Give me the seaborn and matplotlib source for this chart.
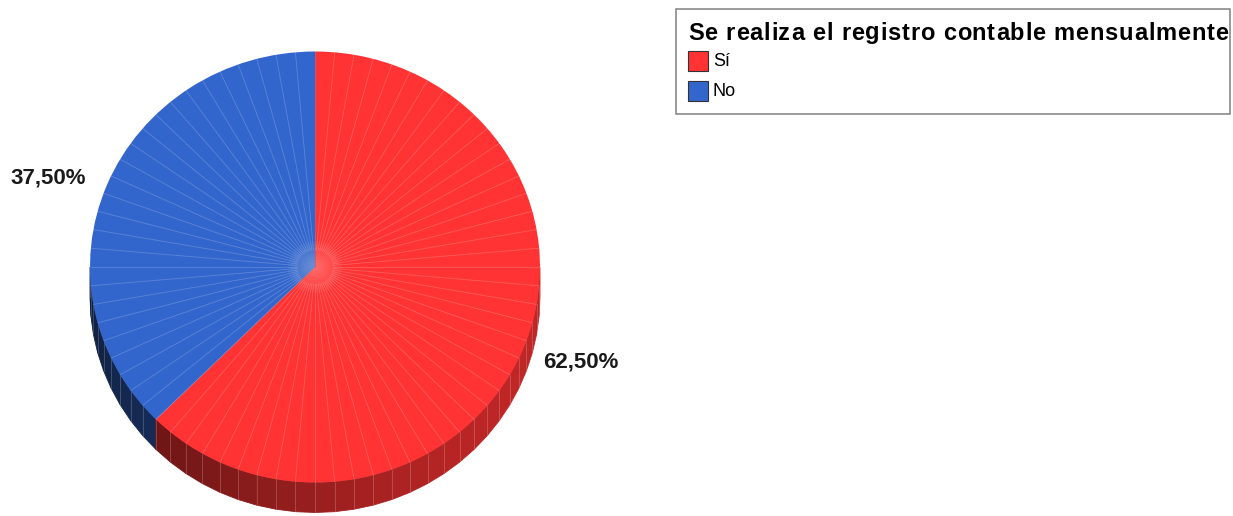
import numpy as np
import matplotlib
matplotlib.use("Agg")
import matplotlib.pyplot as plt
from matplotlib.patches import Polygon, Rectangle
import seaborn as sns

# Survey result: monthly bookkeeping
legend_title = "Se realiza el registro contable mensualmente"
categories = ["Sí", "No"]
shares = [62.5, 37.5]
share_labels = ["62,50%", "37,50%"]

sns.set_theme(style="white")
plt.rcParams["font.family"] = ["Liberation Sans", "DejaVu Sans"]
colors = sns.color_palette(["#FF3333", "#3366CC"])

W, H = 1233, 516
fig = plt.figure(figsize=(W / 100, H / 100), dpi=100)
fig.patch.set_facecolor("white")

# Pie axes: unit circle mapped onto a slightly flattened ellipse
cx, cy, rx, ry = 315, 267, 225, 215.5
ax = fig.add_axes([0, 0, 1, 1])

depth = 30 / ry
start = 90.0
# angular span of each slice (clockwise from 12 o'clock)
spans = []
a = start
for v in shares:
    sweep = 360.0 * v / sum(shares)
    spans.append((a - sweep, a))
    a -= sweep


def slice_at(theta):
    t = theta % 360
    for i, (lo, hi) in enumerate(spans):
        lo_m, hi_m = lo % 360, hi % 360
        if lo_m < hi_m:
            if lo_m <= t < hi_m:
                return i
        else:
            if t >= lo_m or t < hi_m:
                return i
    return 0


# Side wall of the disc (front half only)
step = 5.0
thetas = np.arange(180, 360 + 1e-9, step)
for t1, t2 in zip(thetas[:-1], thetas[1:]):
    mid = 0.5 * (t1 + t2)
    idx = slice_at(mid)
    shade = 0.30 + 0.45 * (1 + np.cos(np.radians(mid - 340))) / 2
    base = np.array(colors[idx])
    col = tuple(np.clip(base * shade, 0, 1))
    r1, r2 = np.radians(t1), np.radians(t2)
    pts = [(np.cos(r1), np.sin(r1)), (np.cos(r2), np.sin(r2)),
           (np.cos(r2), np.sin(r2) - depth), (np.cos(r1), np.sin(r1) - depth)]
    ax.add_patch(Polygon(pts, closed=True, facecolor=col, edgecolor=col, lw=0.6, zorder=1))
    # facet seam
    ax.plot([np.cos(r1)] * 2, [np.sin(r1), np.sin(r1) - depth],
            color=(1, 1, 1), alpha=0.18, lw=0.7, zorder=1.5)

# Top face
wedges, _ = ax.pie(shares, colors=colors, startangle=start, counterclock=False,
                   radius=1, center=(0, 0), frame=True,
                   wedgeprops=dict(linewidth=0, antialiased=True))
for w in wedges:
    w.set_zorder(2)
ax.set_xlim(-cx / rx, (W - cx) / rx)
ax.set_ylim((cy - H) / ry, cy / ry)
ax.set_aspect("auto")
ax.axis("off")

# Faceting seams across the top face
for t in np.arange(0, 360, step):
    r = np.radians(t)
    ax.plot([0.08 * np.cos(r), np.cos(r)], [0.08 * np.sin(r), np.sin(r)],
            color="white", alpha=0.2, lw=0.6, zorder=3)

# soft highlight in the middle
tt = np.linspace(0, 2 * np.pi, 60)
for rad in np.linspace(0.12, 0.02, 8):
    ax.fill(rad * np.cos(tt), rad * np.sin(tt), color="white", alpha=0.04, lw=0, zorder=3)

# Slice boundary lines
for lo, hi in spans:
    r = np.radians(hi)
    ax.plot([0, np.cos(r)], [0, np.sin(r)], color=(0.45, 0.3, 0.5), alpha=0.35, lw=0.6, zorder=3)

# Percentage labels
label_pos = [(1.182, -0.441), (-1.187, 0.413)]
for (x, y), txt in zip(label_pos, share_labels):
    ax.text(x, y, txt, ha="center", va="center", fontsize=16, fontweight="bold",
            color="#1a1a1a", zorder=5)

# Legend box drawn in pixel coordinates
lax = fig.add_axes([0, 0, 1, 1], facecolor="none")
lax.set_xlim(0, W)
lax.set_ylim(H, 0)
lax.axis("off")
lax.add_patch(Rectangle((675.5, 8.5), 554, 105, facecolor="white",
                        edgecolor="#8a8a8a", lw=1.2, zorder=1))

# Title set with extra letter tracking so it fills the box width
renderer = fig.canvas.get_renderer()
title_kw = dict(fontsize=17, fontweight="bold", color="black", ha="left", va="center", zorder=2)


def text_width(s):
    if not s:
        return 0.0
    t = lax.text(0, 0, s, **title_kw)
    w = t.get_window_extent(renderer).width
    t.remove()
    return w


natural = text_width(legend_title)
target = 540.0
extra = (target - natural) / (len(legend_title) - 1)
x = 688.0
for i, ch in enumerate(legend_title):
    lax.text(x, 33, ch, **title_kw)
    adv = text_width(legend_title[:i + 1]) - text_width(legend_title[:i])
    x += adv + extra

for i, (cat, col) in enumerate(zip(categories, colors)):
    y0 = 51 + 30 * i
    lax.add_patch(Rectangle((688, y0), 20, 20, facecolor=col, edgecolor="#333333",
                            lw=0.8, zorder=2))
    lax.text(713, y0 + 10.5, cat, fontsize=13, color="black", ha="left", va="center", zorder=2)

fig.savefig("out.png", dpi=100, facecolor="white")
